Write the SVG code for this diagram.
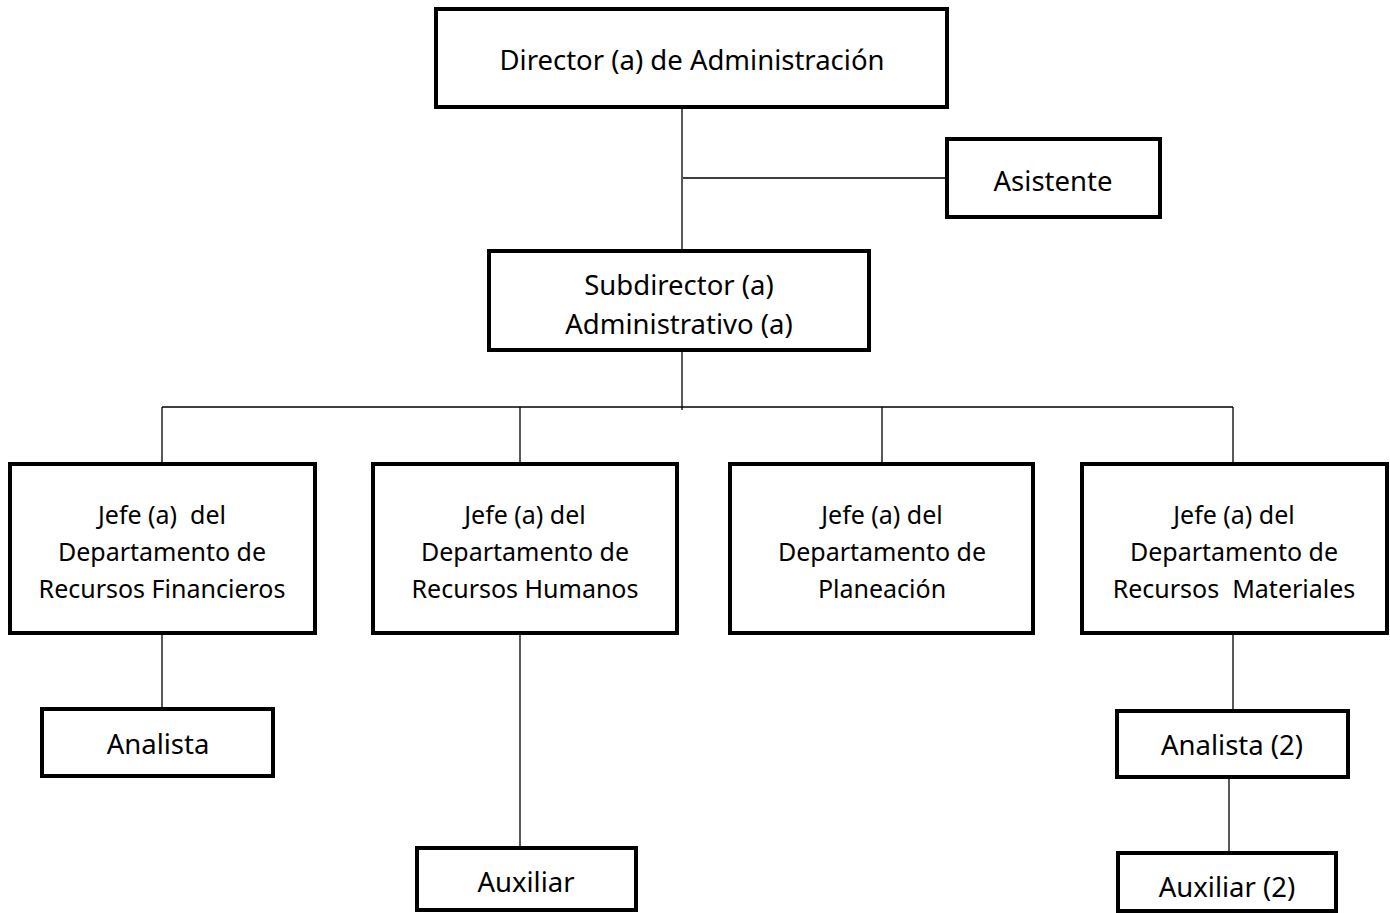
<svg xmlns="http://www.w3.org/2000/svg" width="1390" height="913" viewBox="0 0 1390 913">
<style>
.box{fill:#fff;stroke:#000;stroke-width:4}
.ln{stroke:#000;stroke-width:1.3;fill:none}
text{font-family:"Noto Sans","Open Sans",sans-serif;font-size:27.5px;fill:#000;text-anchor:middle}
.j text{font-size:25px}
</style>
<rect width="1390" height="913" fill="#fff"/>
<g id="connectors">
<path class="ln" d="M682 109V249M683 178H947M682 350V410M162 407H1233M162 407V464M520 407V464M882 407V464M1233 407V464M162 633V709M520 633V848M1233 633V711M1229 778V853"/>
</g>
<g id="director"><rect class="box" x="436" y="9" width="511" height="98"/><text x="692" y="70">Director (a) de Administración</text></g>
<g id="asistente"><rect class="box" x="947" y="139" width="213" height="78"/><text x="1053" y="191">Asistente</text></g>
<g id="subdirector"><rect class="box" x="489" y="251" width="380" height="99"/><text x="679" y="295">Subdirector (a)</text><text x="679" y="334">Administrativo (a)</text></g>
<g id="jefe-fin" class="j"><rect class="box" x="10" y="464" width="305" height="169"/><text x="162" y="524" xml:space="preserve">Jefe (a)  del</text><text x="162" y="561">Departamento de</text><text x="162" y="598">Recursos Financieros</text></g>
<g id="jefe-rh" class="j"><rect class="box" x="373" y="464" width="304" height="169"/><text x="525" y="524">Jefe (a) del</text><text x="525" y="561">Departamento de</text><text x="525" y="598">Recursos Humanos</text></g>
<g id="jefe-plan" class="j"><rect class="box" x="730" y="464" width="303" height="169"/><text x="882" y="524">Jefe (a) del</text><text x="882" y="561">Departamento de</text><text x="882" y="598">Planeación</text></g>
<g id="jefe-mat" class="j"><rect class="box" x="1082" y="464" width="305" height="169"/><text x="1234" y="524">Jefe (a) del</text><text x="1234" y="561">Departamento de</text><text x="1234" y="598" xml:space="preserve">Recursos  Materiales</text></g>
<g id="analista"><rect class="box" x="42" y="709" width="231" height="67"/><text x="158" y="754">Analista</text></g>
<g id="auxiliar"><rect class="box" x="417" y="848" width="219" height="62"/><text x="526" y="892">Auxiliar</text></g>
<g id="analista2"><rect class="box" x="1117" y="711" width="231" height="66"/><text x="1232" y="755">Analista (2)</text></g>
<g id="auxiliar2"><rect class="box" x="1118" y="853" width="218" height="58"/><text x="1227" y="897">Auxiliar (2)</text></g>
</svg>
